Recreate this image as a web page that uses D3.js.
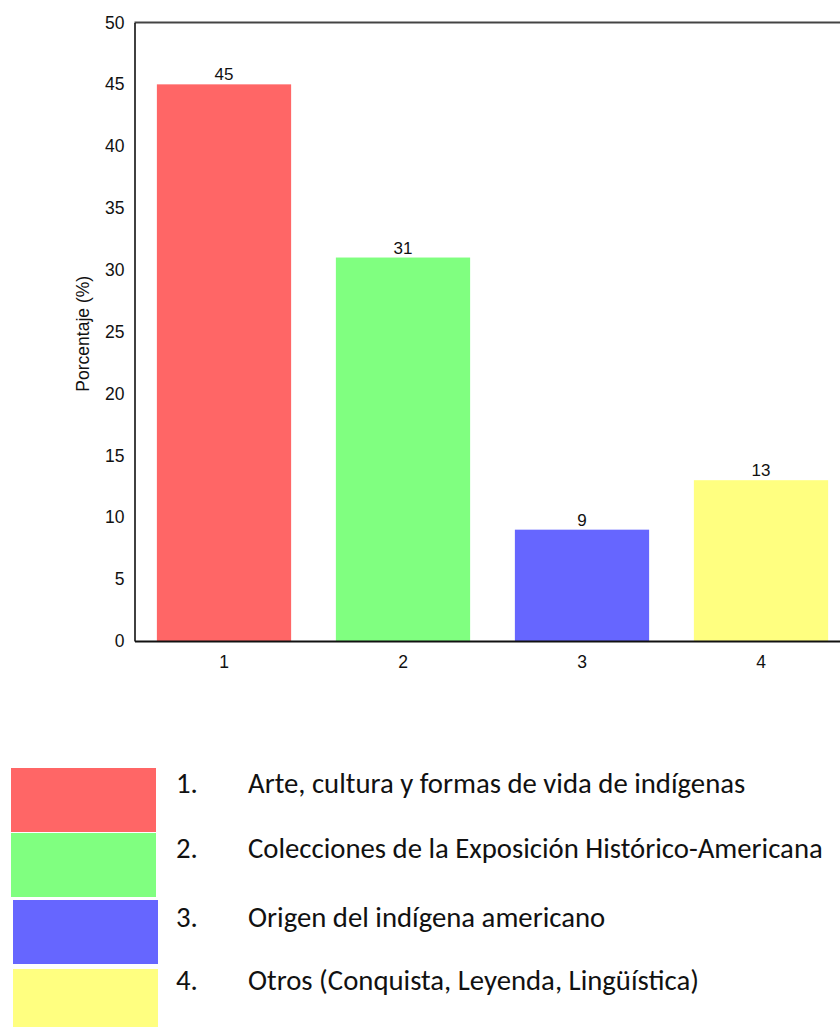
<!DOCTYPE html>
<html>
<head>
<meta charset="utf-8">
<script src="https://cdn.jsdelivr.net/npm/d3@7/dist/d3.min.js"></script>
<style>
  html, body { margin: 0; padding: 0; background: #fff; }
  svg { display: block; }
</style>
</head>
<body>
<svg id="chart" width="840" height="1027"></svg>
<script>
// Data
const categories = ["1", "2", "3", "4"];
const values = [45, 31, 9, 13];
const colors = ["#ff6666", "#80ff80", "#6666ff", "#ffff80"];
const yTicks = [0, 5, 10, 15, 20, 25, 30, 35, 40, 45, 50];
const legendNumbers = ["1.", "2.", "3.", "4."];
const legendLabels = [
  "Arte, cultura y formas de vida de indígenas",
  "Colecciones de la Exposición Histórico-Americana",
  "Origen del indígena americano",
  "Otros (Conquista, Leyenda, Lingüística)"
];
const yTitle = "Porcentaje (%)";

// Layout
const plot = { left: 134.5, right: 850.5, top: 22.5, bottom: 641 };
const chartFont = "'Liberation Sans', Arial, Helvetica, sans-serif";
const legendFont = "Carlito, Calibri, 'Open Sans', sans-serif";
const legendRows = [
  { x: 11, y: 768, h: 64, base: 793 },
  { x: 11, y: 833, h: 64, base: 858 },
  { x: 13, y: 900, h: 64, base: 927 },
  { x: 13, y: 969, h: 64, base: 990 }
];
const legendBoxW = 145;

const svg = d3.select("#chart");

const x = d3.scaleBand()
  .domain(categories)
  .range([plot.left, plot.right])
  .paddingInner(0.25)
  .paddingOuter(0.125);

const y = d3.scaleLinear()
  .domain([0, 50])
  .range([plot.bottom, plot.top]);

// Bars
svg.append("g")
  .selectAll("rect")
  .data(values)
  .join("rect")
  .attr("x", (d, i) => x(categories[i]))
  .attr("y", d => y(d))
  .attr("width", x.bandwidth())
  .attr("height", d => y(0) - y(d))
  .attr("fill", (d, i) => colors[i]);

// Value labels above bars
svg.append("g")
  .selectAll("text")
  .data(values)
  .join("text")
  .attr("x", (d, i) => x(categories[i]) + x.bandwidth() / 2)
  .attr("y", d => y(d) - 4)
  .attr("text-anchor", "middle")
  .attr("font-family", chartFont)
  .attr("font-size", 17)
  .attr("fill", "#111")
  .text(d => d);

// Top frame line
svg.append("line")
  .attr("x1", plot.left).attr("x2", plot.right)
  .attr("y1", y(50)).attr("y2", y(50))
  .attr("stroke", "#444").attr("stroke-width", 2);

// Y axis
const yAxis = svg.append("g")
  .attr("transform", `translate(${plot.left},0)`)
  .call(d3.axisLeft(y).tickValues(yTicks).tickSize(0).tickSizeOuter(0).tickPadding(10));
yAxis.select(".domain").attr("stroke", "#111").attr("stroke-width", 1.6);
yAxis.selectAll("text")
  .attr("font-family", chartFont)
  .attr("font-size", 17.5)
  .attr("fill", "#111");

// X axis
const xAxis = svg.append("g")
  .attr("transform", `translate(0,${plot.bottom})`)
  .call(d3.axisBottom(x).tickSize(0).tickSizeOuter(0).tickPadding(15));
xAxis.select(".domain").attr("stroke", "#111").attr("stroke-width", 2.2);
xAxis.selectAll("text")
  .attr("font-family", chartFont)
  .attr("font-size", 17.5)
  .attr("fill", "#111");

// Y axis title
svg.append("text")
  .attr("transform", `translate(89,${(plot.top + plot.bottom) / 2 + 2}) rotate(-90)`)
  .attr("text-anchor", "middle")
  .attr("font-family", chartFont)
  .attr("font-size", 17.5)
  .attr("fill", "#111")
  .text(yTitle);

// Legend
const legend = svg.append("g");
legend.selectAll("rect")
  .data(legendRows)
  .join("rect")
  .attr("x", d => d.x)
  .attr("y", d => d.y)
  .attr("width", legendBoxW)
  .attr("height", d => d.h)
  .attr("fill", (d, i) => colors[i]);

legend.selectAll("text.num")
  .data(legendRows)
  .join("text")
  .attr("class", "num")
  .attr("x", 176)
  .attr("y", d => d.base)
  .attr("font-family", legendFont)
  .attr("font-size", 24)
  .attr("fill", "#111")
  .text((d, i) => legendNumbers[i]);

const labels = legend.selectAll("text.lab")
  .data(legendRows)
  .join("text")
  .attr("class", "lab")
  .attr("x", 248)
  .attr("y", d => d.base)
  .attr("font-family", legendFont)
  .attr("font-size", 24)
  .attr("fill", "#111")
  .text((d, i) => legendLabels[i]);

// Size the legend text so the longest entry spans 575px
let widest = 0;
labels.each(function () { widest = Math.max(widest, this.getComputedTextLength()); });
const legendSize = 24 * 575 / widest;
legend.selectAll("text").attr("font-size", legendSize);
</script>
</body>
</html>
